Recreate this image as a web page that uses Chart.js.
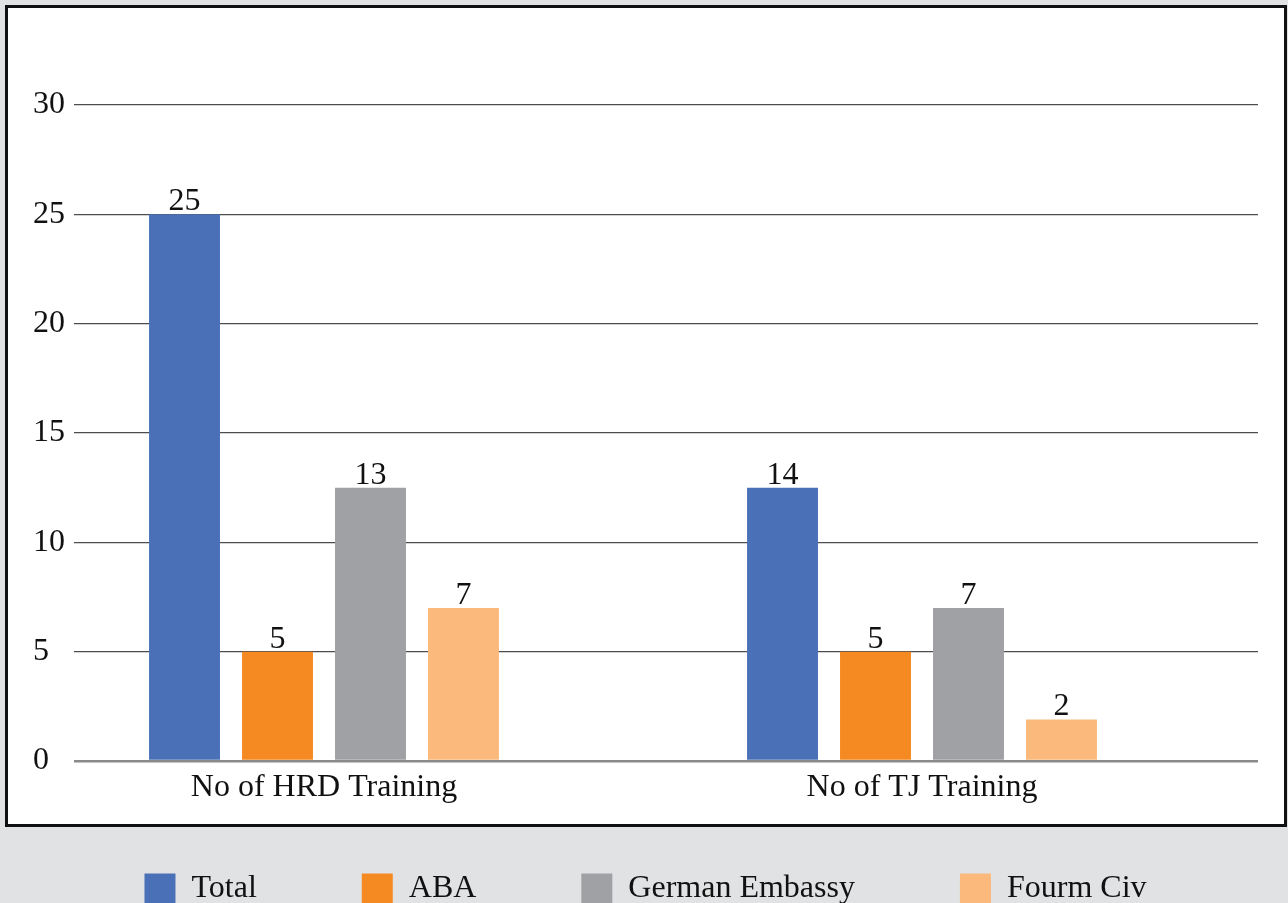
<!DOCTYPE html>
<html>
<head>
<meta charset="utf-8">
<script src="https://cdn.jsdelivr.net/npm/chart.js@4.4.1/dist/chart.umd.min.js"></script>
<style>
  html, body { margin: 0; padding: 0; background: #e1e2e3; overflow: hidden; }
  #frame { position: absolute; left: 5px; top: 5px; width: 1282px; height: 822px; box-sizing: border-box; background: #fff; border: 3px solid #111; }
  #chart { position: absolute; left: 0; top: 0; }
</style>
</head>
<body>
<div id="frame"></div>
<canvas id="chart" width="1288" height="918"></canvas>
<script>
const categories = ["No of HRD Training", "No of TJ Training"];
const seriesNames = ["Total", "ABA", "German Embassy", "Fourm Civ"];
const totalValues = [25, 12.5];
const abaValues = [5, 5];
const germanValues = [12.5, 7];
const fourmValues = [7, 1.9];
// printed labels (some differ from the drawn bar heights in the source)
const totalLabels = ["25", "14"];
const abaLabels = ["5", "5"];
const germanLabels = ["13", "7"];
const fourmLabels = ["7", "2"];
const yTicks = [0, 5, 10, 15, 20, 25, 30];

const colors = ["#4a71b7", "#f58a22", "#a0a1a4", "#fbba7c"];
const serif = "'Liberation Serif', 'Times New Roman', serif";

const seriesValues = [totalValues, abaValues, germanValues, fourmValues];
const seriesLabels = [totalLabels, abaLabels, germanLabels, fourmLabels];

// bars sit left of the gridline centre in the original, so narrow the x scale after layout;
// x scale takes almost no layout height so the legend can sit close, but keep room to draw labels
const shiftXScale = {
    id: "shiftXScale",
    afterLayout(chart) {
        const x = chart.scales.x;
        x.left = 25;
        x.right = 1221;
        x.width = x.right - x.left;
        x.bottom = x.top + 60;
        x.height = 60;
        x.configure();
    }
};

const valueLabels = {
    id: "valueLabels",
    afterDatasetsDraw(chart) {
        const ctx = chart.ctx;
        ctx.save();
        ctx.font = "32px " + serif;
        ctx.fillStyle = "#111";
        ctx.textAlign = "center";
        ctx.textBaseline = "alphabetic";
        chart.data.datasets.forEach((ds, i) => {
            chart.getDatasetMeta(i).data.forEach((bar, j) => {
                ctx.fillText(seriesLabels[i][j], bar.x, bar.y - 4);
            });
        });
        ctx.restore();
    }
};

new Chart(document.getElementById("chart"), {
    type: "bar",
    data: {
        labels: categories,
        datasets: seriesNames.map((name, i) => ({
            label: name,
            data: seriesValues[i],
            backgroundColor: colors[i],
            borderWidth: 0,
            categoryPercentage: 0.622,
            barPercentage: 0.763
        }))
    },
    options: {
        responsive: false,
        animation: false,
        layout: { padding: { left: 33, top: 105, right: 30, bottom: 3 } },
        plugins: {
            tooltip: { enabled: false },
            legend: {
                position: "bottom",
                labels: {
                    font: { family: serif, size: 32 },
                    color: "#111",
                    boxWidth: 31,
                    boxHeight: 31,
                    padding: 105
                }
            }
        },
        scales: {
            x: {
                grid: { display: false, drawTicks: false },
                border: { display: false },
                ticks: { font: { family: serif, size: 32 }, color: "#111", padding: 7, maxRotation: 0 },
                afterFit: s => { s.height = 7; }
            },
            y: {
                min: 0,
                max: 30,
                afterBuildTicks: s => { s.ticks = yTicks.map(v => ({ value: v })); },
                afterFit: s => { s.width = 41; },
                grid: {
                    drawTicks: false,
                    color: c => c.tick && c.tick.value === 0 ? "#8a8a8a" : "#4d4d4d",
                    lineWidth: c => c.tick && c.tick.value === 0 ? 2.5 : 1.2
                },
                border: { display: false },
                ticks: { font: { family: serif, size: 32 }, color: "#111", crossAlign: "far", padding: 0 }
            }
        }
    },
    plugins: [shiftXScale, valueLabels]
});
</script>
</body>
</html>
